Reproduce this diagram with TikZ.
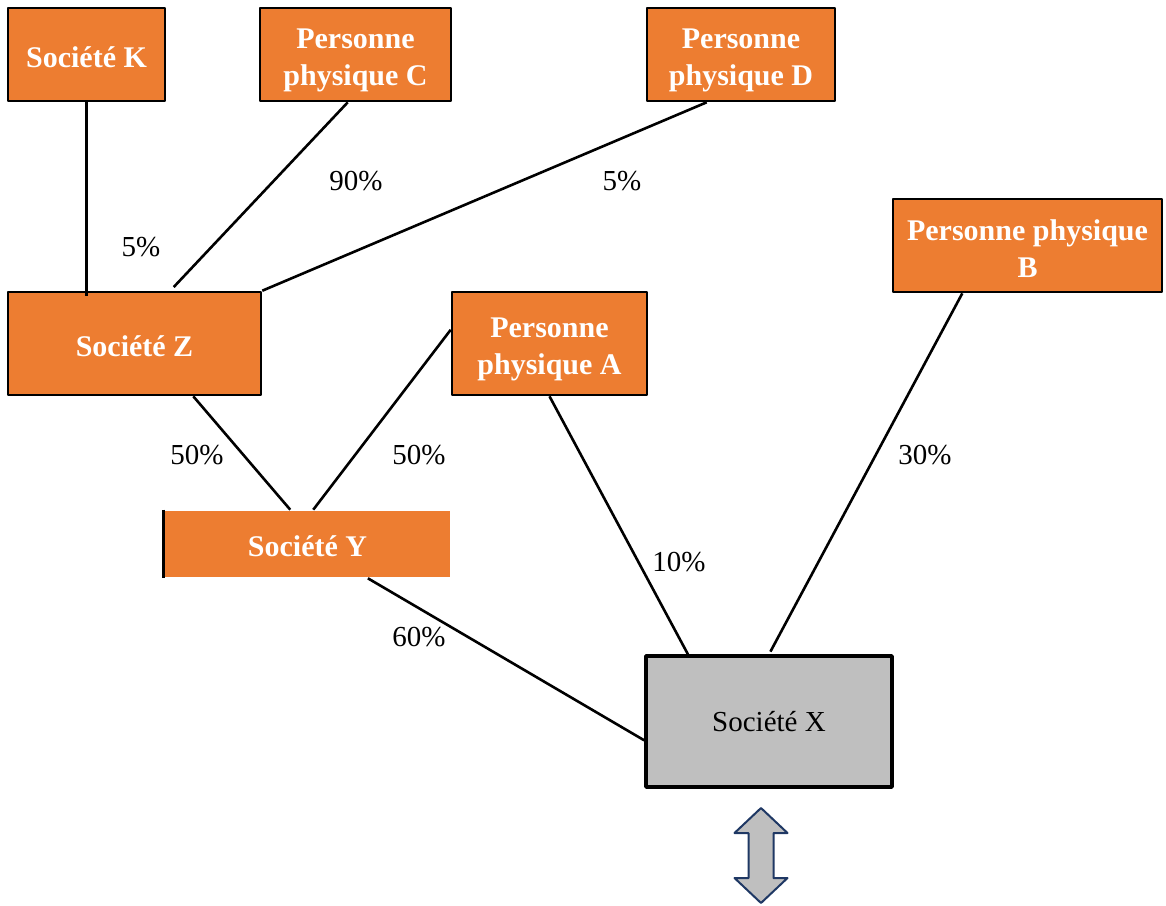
\documentclass[tikz,border=0pt]{standalone}
\usepackage{fontspec}
\setmainfont{Liberation Serif}
\usetikzlibrary{calc}
\definecolor{orangebox}{HTML}{ED7D31}
\definecolor{greybox}{HTML}{BFBFBF}
\definecolor{navyline}{HTML}{1F3864}
\newcommand{\cale}[1][32pt]{\rule{0pt}{#1}}
\begin{document}
\begin{tikzpicture}[x=1pt, y=-1pt, line join=round, font=\fontsize{29}{34}\selectfont,
  societe/.style={fill=orangebox, draw=black, line width=2.6pt, text=white, align=center,
    inner sep=0pt, font=\fontsize{30}{37}\selectfont\bfseries},
  lien/.style={line width=2.6pt},
  taux/.style={inner sep=0pt}]
  \useasboundingbox (0,0) rectangle (1166,905);
  % shareholders
  \node[societe, minimum width=157pt, minimum height=93pt] (k) at (86.5,54.5) {\cale[26pt]Société K};
  \node[societe, minimum width=191pt, minimum height=93pt] (c) at (355.5,54.5) {\cale Personne\\physique C};
  \node[societe, minimum width=188pt, minimum height=93pt] (d) at (741,54.5) {\cale Personne\\physique D};
  \node[societe, minimum width=269pt, minimum height=93pt] (b) at (1027.5,245.5) {\cale[28pt]Personne physique\\B};
  \node[societe, minimum width=253pt, minimum height=103pt] (z) at (134.5,343.5) {\cale[26pt]Société Z};
  \node[societe, minimum width=195pt, minimum height=103pt] (a) at (549.5,343.5) {\cale Personne\\physique A};
  \node[societe, draw=none, minimum width=285pt, minimum height=66pt] (y) at (307.5,544) {\cale[26pt]Société Y};
  \draw[lien] (y.north west) -- (y.south west);
  \node[fill=greybox, draw=black, line width=3.5pt, minimum width=246pt, minimum height=131pt] (x) at (769,721.5) {Société X};
  % links
  \draw[lien] (k.south) -- ([yshift=-5pt]k.south |- z.north);
  \draw[lien, shorten >=5pt] ($(c.south west)!0.46!(c.south east)$) -- ($(z.north west)!0.64!(z.north east)$);
  \draw[lien] ($(d.south west)!0.32!(d.south east)$) -- (z.north east);
  \draw[lien] ($(z.south west)!0.73!(z.south east)$) -- ($(y.north west)!0.44!(y.north east)$);
  \draw[lien] ($(a.north west)!0.37!(a.south west)$) -- ($(y.north west)!0.52!(y.north east)$);
  \draw[lien] (a.south) -- ($(x.north west)!0.175!(x.north east)$);
  \draw[lien, shorten >=3pt] ($(b.south west)!0.26!(b.south east)$) -- (x.north);
  \draw[lien] ($(y.south west)!0.71!(y.south east)$) -- ($(x.north west)!0.64!(x.south west)$);
  % percentages
  \node[taux] (tk) at (141,247) {5\%};
  \node[taux] (tc) at (356,181) {90\%};
  \node[taux] (td) at (622,181) {5\%};
  \node[taux] (tz) at (197,455) {50\%};
  \node[taux] (ta) at (419,455) {50\%};
  \node[taux] (tax) at (679,562) {10\%};
  \node[taux] (tb) at (925,455) {30\%};
  \node[taux] (ty) at (419,637) {60\%};
  % double arrow below X
  \coordinate (fl) at (761,855.5);
  \draw[fill=greybox, draw=navyline, line width=2pt]
    ($(fl)+(0,-47.5)$) -- ++(26.5,25) -- ++(-14,0) -- ++(0,45) -- ++(14,0)
    -- ($(fl)+(0,47.5)$) -- ++(-26.5,-25) -- ++(14,0) -- ++(0,-45) -- ++(-14,0) -- cycle;
\end{tikzpicture}
\end{document}
